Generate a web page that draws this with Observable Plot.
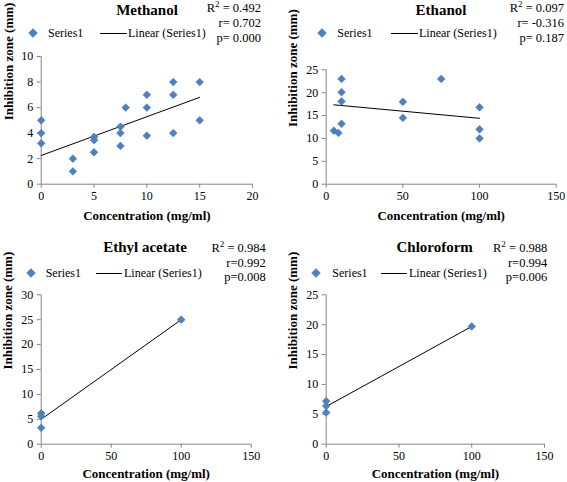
<!DOCTYPE html>
<html><head><meta charset="utf-8">
<script src="https://cdn.jsdelivr.net/npm/d3@7"></script>
<script src="https://cdn.jsdelivr.net/npm/@observablehq/plot@0.6"></script>
<style>
html,body{margin:0;padding:0;background:#fff;}
#root{position:relative;width:567px;height:482px;overflow:hidden;font-family:"Liberation Serif","DejaVu Serif","Times New Roman",Times,serif;color:#000;}
.t{position:absolute;white-space:nowrap;line-height:1;}
.sup{position:relative;top:-5px;font-size:9px;}
svg.p{position:absolute;}
svg.p text{font-family:"Liberation Serif","DejaVu Serif","Times New Roman",Times,serif;}
</style></head><body><div id="root"></div>
<script>
// ---- data ----
const methanolConc = [0, 0, 0, 3, 3, 5, 5, 5, 7.5, 7.5, 7.5, 8, 10, 10, 10, 12.5, 12.5, 12.5, 15, 15];
const methanolZone = [5, 4, 3.2, 2, 1, 3.7, 3.45, 2.5, 4.5, 4, 3, 6, 7, 6, 3.8, 8, 7, 4, 8, 5];
const methanolTrendX = [0, 15];
const methanolTrendY = [2.25, 6.8];
const methanolStats = ["0.492", "r= 0.702", "p= 0.000"];
const methanolXTicks = [0, 5, 10, 15, 20];
const methanolYTicks = [0, 2, 4, 6, 8, 10];

const ethanolConc = [5, 8, 10, 10, 10, 10, 50, 50, 75, 100, 100, 100];
const ethanolZone = [11.7, 11.2, 13.2, 18.1, 20.1, 23, 18, 14.5, 23, 16.8, 12, 10];
const ethanolTrendX = [5, 100];
const ethanolTrendY = [17.35, 14.4];
const ethanolStats = ["0.097", "r= -0.316", "p= 0.187"];
const ethanolXTicks = [0, 50, 100, 150];
const ethanolYTicks = [0, 5, 10, 15, 20, 25];

const ethylConc = [0, 0, 0, 100];
const ethylZone = [6.2, 5.6, 3.3, 25];
const ethylTrendX = [0, 100];
const ethylTrendY = [5.0, 25.0];
const ethylStats = ["0.984", "r=0.992", "p=0.008"];
const ethylXTicks = [0, 50, 100, 150];
const ethylYTicks = [0, 5, 10, 15, 20, 25, 30];

const chloroConc = [0, 0, 0, 100];
const chloroZone = [7.2, 6.4, 5.3, 19.7];
const chloroTrendX = [0, 100];
const chloroTrendY = [6.3, 19.7];
const chloroStats = ["0.988", "r=0.994", "p=0.006"];
const chloroXTicks = [0, 50, 100, 150];
const chloroYTicks = [0, 5, 10, 15, 20, 25];

const titles = ["Methanol", "Ethanol", "Ethyl acetate", "Chloroform"];
const xTitle = "Concentration (mg/ml)";
const yTitle = "Inhibition zone (mm)";
const seriesName = "Series1";
const trendName = "Linear (Series1)";

// ---- layout ----
const FONT = "'Liberation Serif', 'DejaVu Serif', 'Times New Roman', Times, serif";
const panels = [
  {title: titles[0], conc: methanolConc, zone: methanolZone, tx: methanolTrendX, ty: methanolTrendY, stats: methanolStats, xt: methanolXTicks, yt: methanolYTicks,
   box: [0, 48, 283, 187], m: [8, 31, 51.3, 40.7], xto: 31.3, yto: 32.7,
   tpos: [147, 9.5], sx: 261, sy: [8.3, 23.2, 38], leg: {dx: 33, dy: 33, st: 48, l0: 100, l1: 127, lt: 128}},
  {title: titles[1], conc: ethanolConc, zone: ethanolZone, tx: ethanolTrendX, ty: ethanolTrendY, stats: ethanolStats, xt: ethanolXTicks, yt: ethanolYTicks,
   box: [283, 48, 284, 187], m: [21.3, 11.3, 51.3, 42.7], xto: 31.3, yto: 33.7,
   tpos: [441, 9.5], sx: 564, sy: [8.3, 23.2, 38], leg: {dx: 322.3, dy: 33.3, st: 337.3, l0: 391.3, l1: 418, lt: 419}},
  {title: titles[2], conc: ethylConc, zone: ethylZone, tx: ethylTrendX, ty: ethylTrendY, stats: ethylStats, xt: ethylXTicks, yt: ethylYTicks,
   box: [0, 285, 283, 197], m: [9.3, 32.3, 38.3, 40.7], xto: 29.6, yto: 33.4,
   tpos: [145, 247.3], sx: 265.7, sy: [248, 262.5, 277], leg: {dx: 30.7, dy: 273.3, st: 45.7, l0: 95.7, l1: 121.7, lt: 124}},
  {title: titles[3], conc: chloroConc, zone: chloroZone, tx: chloroTrendX, ty: chloroTrendY, stats: chloroStats, xt: chloroXTicks, yt: chloroYTicks,
   box: [283, 285, 284, 197], m: [9.3, 23, 38.3, 42.7], xto: 29.6, yto: 33.4,
   tpos: [434.7, 247.3], sx: 547.3, sy: [248, 262.5, 277], leg: {dx: 316.3, dy: 273.3, st: 332.3, l0: 381.3, l1: 407.3, lt: 409}}
];

const root = document.getElementById("root");
const BLUE = "#4F81BD";

function addText(html, x, y, anchor, size, weight) {
  const d = document.createElement("div");
  d.className = "t";
  d.innerHTML = html;
  d.style.left = x + "px";
  d.style.top = y + "px";
  d.style.fontSize = size + "px";
  d.style.fontWeight = weight || "normal";
  d.style.fontFamily = FONT;
  const tx = anchor === "middle" ? "-50%" : anchor === "end" ? "-100%" : "0";
  d.style.transform = `translate(${tx},-50%)`;
  root.appendChild(d);
}

function addDiamond(x, y) {
  const ns = "http://www.w3.org/2000/svg";
  const s = document.createElementNS(ns, "svg");
  s.setAttribute("width", 12); s.setAttribute("height", 12);
  s.style.position = "absolute";
  s.style.left = (x - 6) + "px"; s.style.top = (y - 6) + "px";
  const p = document.createElementNS(ns, "polygon");
  p.setAttribute("points", "6,1.6 10.4,6 6,10.4 1.6,6");
  p.setAttribute("fill", BLUE);
  p.setAttribute("stroke", "#3f6fa8");
  p.setAttribute("stroke-width", "0.5");
  s.appendChild(p);
  root.appendChild(s);
}

function addLine(x0, x1, y) {
  const d = document.createElement("div");
  d.style.position = "absolute";
  d.style.left = x0 + "px";
  d.style.top = (y - 0.5) + "px";
  d.style.width = (x1 - x0) + "px";
  d.style.borderTop = "1px solid #000";
  root.appendChild(d);
}

for (const p of panels) {
  const data = p.conc.map((c, i) => ({conc: c, zone: p.zone[i]}));
  const trend = p.tx.map((x, i) => ({conc: x, zone: p.ty[i]}));
  const [left, top, w, h] = p.box;
  const [mt, mr, mb, ml] = p.m;
  const svg = Plot.plot({
    width: w, height: h,
    marginTop: mt, marginRight: mr, marginBottom: mb, marginLeft: ml,
    x: {domain: [p.xt[0], p.xt[p.xt.length - 1]], label: null},
    y: {domain: [p.yt[0], p.yt[p.yt.length - 1]], label: null},
    style: {fontFamily: FONT, fontSize: "12px", color: "#000", background: "transparent", overflow: "visible"},
    marks: [
      Plot.axisX({ticks: p.xt, tickSize: 4, tickPadding: 3, stroke: "#868686", fill: "#000", label: null, fontFamily: FONT}),
      Plot.axisY({ticks: p.yt, tickSize: 4, tickPadding: 4, stroke: "#868686", fill: "#000", label: null, fontFamily: FONT}),
      Plot.ruleY([p.yt[0]], {stroke: "#868686"}),
      Plot.ruleX([p.xt[0]], {stroke: "#868686"}),
      Plot.line(trend, {x: "conc", y: "zone", stroke: "#000", strokeWidth: 1}),
      Plot.dot(data, {x: "conc", y: "zone", symbol: "diamond2", r: 3.5, fill: BLUE, stroke: "#3f6fa8", strokeWidth: 0.5}),
      Plot.text([xTitle], {text: d => d, frameAnchor: "bottom", dy: p.xto, lineAnchor: "middle", fontWeight: "bold", fontSize: 13, fontFamily: FONT}),
      Plot.text([yTitle], {text: d => d, frameAnchor: "left", dx: -p.yto, rotate: -90, lineAnchor: "middle", fontWeight: "bold", fontSize: 13, fontFamily: FONT})
    ]
  });
  svg.classList.add("p");
  svg.style.left = left + "px";
  svg.style.top = top + "px";
  root.appendChild(svg);

  addText(p.title, p.tpos[0], p.tpos[1], "middle", 15, "bold");
  addText(`R<span class="sup">2</span> = ${p.stats[0]}`, p.sx, p.sy[0], "end", 12.5);
  addText(p.stats[1], p.sx, p.sy[1], "end", 12.5);
  addText(p.stats[2], p.sx, p.sy[2], "end", 12.5);
  addDiamond(p.leg.dx, p.leg.dy);
  addText(seriesName, p.leg.st, p.leg.dy, "start", 12);
  addLine(p.leg.l0, p.leg.l1, p.leg.dy);
  addText(trendName, p.leg.lt, p.leg.dy, "start", 12);
}
</script>
</body></html>
